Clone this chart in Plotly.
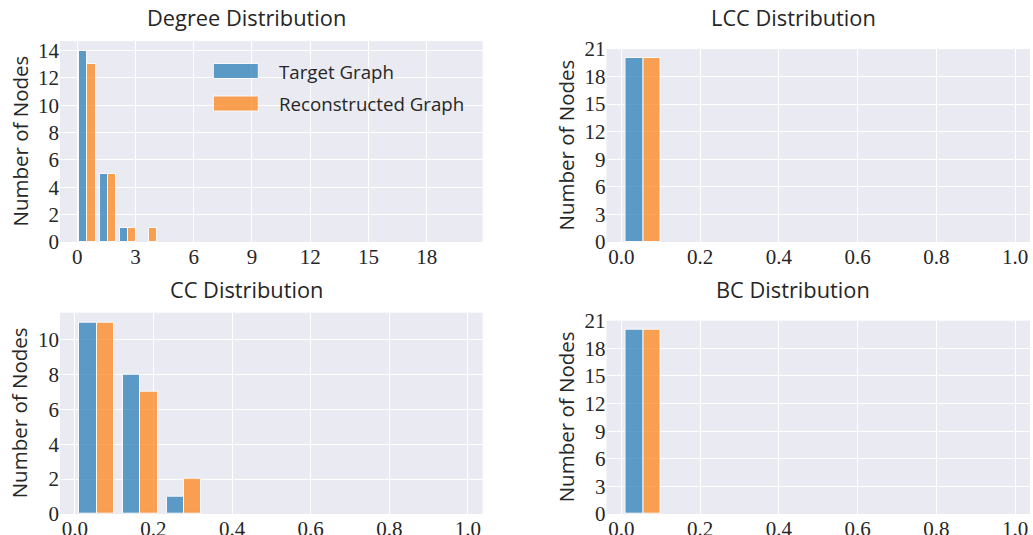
import numpy as np
import plotly.graph_objects as go

# Histogram counts per bin (target vs reconstructed graph)
degree_bins = 19
degree_max = 20
degree_target = [14, 5, 1, 0, 0, 0, 0, 0, 0, 0, 0, 0, 0, 0, 0, 0, 0, 0, 0]
degree_recon = [13, 5, 1, 1, 0, 0, 0, 0, 0, 0, 0, 0, 0, 0, 0, 0, 0, 0, 0]

unit_bins = 9
lcc_target = [20, 0, 0, 0, 0, 0, 0, 0, 0]
lcc_recon = [20, 0, 0, 0, 0, 0, 0, 0, 0]

cc_target = [11, 8, 1, 0, 0, 0, 0, 0, 0]
cc_recon = [11, 7, 2, 0, 0, 0, 0, 0, 0]

bc_target = [20, 0, 0, 0, 0, 0, 0, 0, 0]
bc_recon = [20, 0, 0, 0, 0, 0, 0, 0, 0]

series_names = ["Target Graph", "Reconstructed Graph"]
panel_titles = ["Degree Distribution", "LCC Distribution", "CC Distribution", "BC Distribution"]
y_label = "Number of Nodes"

W, H = 1033, 535
BG = "#EAEAF2"
BLUE = "#1f77b4"
ORANGE = "#ff7f0e"
TEXT = "#262626"
SANS = "Open Sans"
SERIF = "Liberation Serif"


def px_x(p):
    return p / W


def px_y(p):
    return 1 - p / H


# panel geometry in pixels: (left, right, top, bottom)
panels = {
    "Degree": dict(box=(60, 482.7, 41, 242), ax=1),
    "LCC": dict(box=(606.5, 1030, 49, 242), ax=2),
    "CC": dict(box=(60, 482.7, 312.7, 514), ax=3),
    "BC": dict(box=(606.5, 1030, 320.7, 514), ax=4),
}

fig = go.Figure()


def add_hist(ax, edges_lo, edges_hi, nb, target, recon):
    edges = np.linspace(edges_lo, edges_hi, nb + 1)
    bw = edges[1] - edges[0]
    starts = edges[:-1]
    suffix = "" if ax == 1 else str(ax)
    for vals, col, off, name in [(target, BLUE, 0.3, series_names[0]), (recon, ORANGE, 0.7, series_names[1])]:
        vals = np.asarray(vals)
        keep = vals > 0  # empty bins draw nothing
        fig.add_trace(go.Bar(
            x=(starts + off * bw)[keep], y=vals[keep], width=0.4 * bw,
            marker=dict(color=col, opacity=0.7, line=dict(color="white", width=1)),
            name=name, showlegend=False,
            xaxis="x" + suffix, yaxis="y" + suffix,
        ))
    # autoscaled limits: bar extents plus 5% margin
    lo = starts[0] + 0.1 * bw
    hi = starts[-1] + 0.9 * bw
    span = hi - lo
    return [lo - 0.05 * span, hi + 0.05 * span]


xr1 = add_hist(1, 0, degree_max, degree_bins, degree_target, degree_recon)
xr2 = add_hist(2, 0, 1, unit_bins, lcc_target, lcc_recon)
xr3 = add_hist(3, 0, 1, unit_bins, cc_target, cc_recon)
xr4 = add_hist(4, 0, 1, unit_bins, bc_target, bc_recon)

xranges = {1: xr1, 2: xr2, 3: xr3, 4: xr4}
ymax = {
    1: max(max(degree_target), max(degree_recon)) * 1.05,
    2: max(max(lcc_target), max(lcc_recon)) * 1.05,
    3: max(max(cc_target), max(cc_recon)) * 1.05,
    4: max(max(bc_target), max(bc_recon)) * 1.05,
}
xdtick = {1: 3, 2: 0.2, 3: 0.2, 4: 0.2}
ydtick = {1: 2, 2: 3, 3: 2, 4: 3}
xfmt = {1: "d", 2: ".1f", 3: ".1f", 4: ".1f"}

layout = dict(
    width=W, height=H, autosize=False,
    margin=dict(l=0, r=0, t=0, b=0, pad=0),
    paper_bgcolor="white", plot_bgcolor=BG,
    bargap=0, barmode="overlay",
    showlegend=False,
    font=dict(family=SERIF, size=21, color=TEXT),
)

annotations = []
shapes = []
title_pos = {1: (246.5, 17), 2: (793, 17), 3: (246.5, 289), 4: (793, 289)}
ylab_x = {1: 19, 2: 566, 3: 19, 4: 566}

for i, (key, p) in enumerate(panels.items()):
    ax = p["ax"]
    l, r, t, b = p["box"]
    suffix = "" if ax == 1 else str(ax)
    layout["xaxis" + suffix] = dict(
        domain=[px_x(l), px_x(r)], range=xranges[ax], anchor="y" + suffix,
        dtick=xdtick[ax], tick0=0, tickformat=xfmt[ax], automargin=False,
        showgrid=True, gridcolor="white", gridwidth=1, zeroline=False,
        showline=False, ticks="", tickfont=dict(family=SERIF, size=21, color=TEXT),
    )
    layout["yaxis" + suffix] = dict(
        domain=[px_y(b), px_y(t)], range=[0, ymax[ax]], anchor="x" + suffix,
        dtick=ydtick[ax], tick0=0, automargin=False,
        showgrid=True, gridcolor="white", gridwidth=1, zeroline=False,
        showline=False, ticks="", tickfont=dict(family=SERIF, size=21, color=TEXT),
    )
    tx, ty = title_pos[ax]
    annotations.append(dict(
        text=panel_titles[i], x=px_x(tx), y=px_y(ty), xref="paper", yref="paper",
        xanchor="center", yanchor="middle", showarrow=False,
        font=dict(family=SANS, size=21.8, color=TEXT),
    ))
    annotations.append(dict(
        text=y_label, x=px_x(ylab_x[ax]), y=px_y((t + b) / 2), xref="paper", yref="paper",
        xanchor="center", yanchor="middle", showarrow=False, textangle=-90,
        font=dict(family=SANS, size=20.5, color=TEXT),
    ))

# legend inside the degree panel
legend_rows = [(series_names[0], BLUE, 71), (series_names[1], ORANGE, 103.5)]
for name, col, cy in legend_rows:
    shapes.append(dict(
        type="rect", xref="paper", yref="paper",
        x0=px_x(213.3), x1=px_x(258.3), y0=px_y(cy + 7.5), y1=px_y(cy - 7.5),
        fillcolor=col, opacity=0.7, line=dict(color="white", width=1),
    ))
    annotations.append(dict(
        text=name, x=px_x(277), y=px_y(cy), xref="paper", yref="paper",
        xanchor="left", yanchor="middle", showarrow=False,
        font=dict(family=SANS, size=18.7, color=TEXT),
    ))

layout["annotations"] = annotations
layout["shapes"] = shapes
fig.update_layout(**layout)
fig.write_html("out.html")
